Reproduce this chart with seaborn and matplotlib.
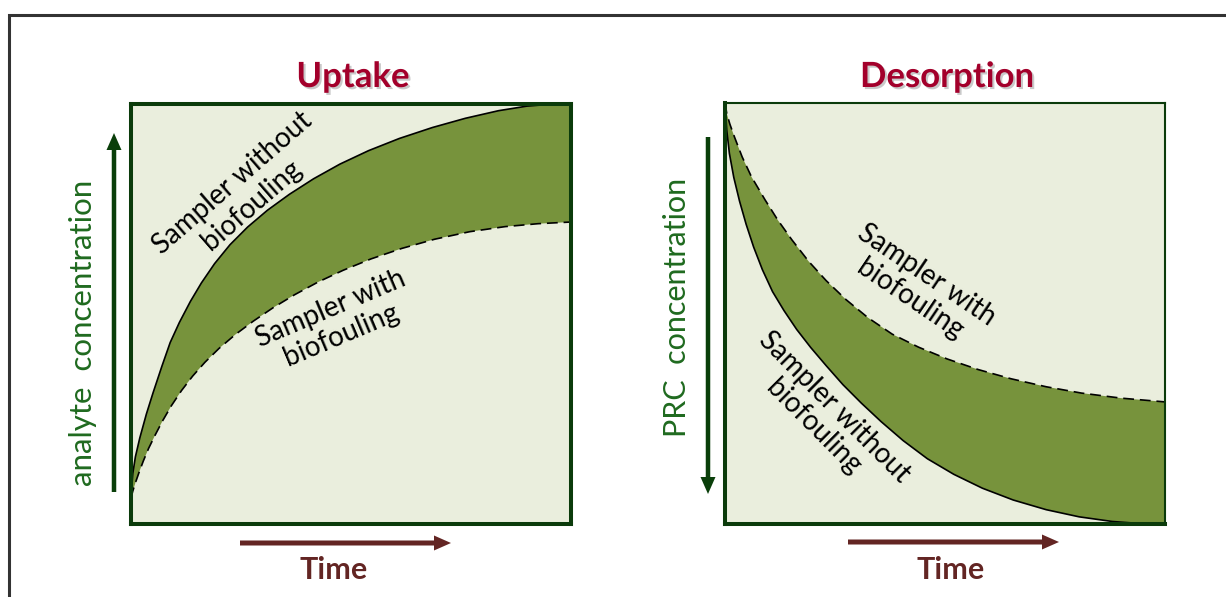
import numpy as np
import matplotlib
matplotlib.use("Agg")
import matplotlib.pyplot as plt
import matplotlib.patheffects as pe
from matplotlib.patches import FancyArrow
from matplotlib.lines import Line2D
from matplotlib.transforms import Affine2D
import seaborn as sns

# ---------------- data (normalised 0..1) ----------------
# Uptake panel
uptake_time_without = [0.0, 0.004, 0.010, 0.020, 0.035, 0.050, 0.070, 0.089, 0.110, 0.135,
                       0.160, 0.190, 0.225, 0.265, 0.310, 0.360, 0.415, 0.475, 0.540, 0.610,
                       0.685, 0.760, 0.835, 0.900, 0.950, 1.0]
uptake_conc_without = [0.062, 0.120, 0.160, 0.205, 0.262, 0.312, 0.375, 0.432, 0.480, 0.530,
                       0.574, 0.620, 0.665, 0.707, 0.747, 0.785, 0.822, 0.857, 0.889, 0.918,
                       0.944, 0.966, 0.984, 0.995, 0.999, 1.0]
uptake_time_with = [0.0, 0.004, 0.010, 0.018, 0.028, 0.040, 0.055, 0.072, 0.092, 0.115,
                    0.140, 0.168, 0.200, 0.237, 0.278, 0.323, 0.372, 0.425, 0.482, 0.545,
                    0.615, 0.690, 0.770, 0.850, 0.925, 1.0]
uptake_conc_with = [0.062, 0.078, 0.098, 0.122, 0.150, 0.180, 0.212, 0.246, 0.282, 0.318,
                    0.352, 0.385, 0.418, 0.451, 0.483, 0.515, 0.546, 0.576, 0.604, 0.631,
                    0.656, 0.678, 0.696, 0.708, 0.715, 0.719]

# Desorption panel
desorp_time_without = [0.0, 0.004, 0.010, 0.020, 0.033, 0.048, 0.065, 0.085, 0.108, 0.134,
                       0.163, 0.195, 0.230, 0.268, 0.310, 0.355, 0.405, 0.460, 0.520, 0.585,
                       0.655, 0.730, 0.805, 0.880, 0.945, 1.0]
desorp_conc_without = [1.0, 0.935, 0.880, 0.823, 0.767, 0.712, 0.658, 0.604, 0.552, 0.507,
                       0.462, 0.419, 0.376, 0.331, 0.287, 0.243, 0.198, 0.155, 0.118, 0.085,
                       0.057, 0.034, 0.017, 0.006, 0.001, 0.0]
desorp_time_with = [0.0, 0.004, 0.011, 0.022, 0.039, 0.060, 0.091, 0.120, 0.152, 0.190,
                    0.230, 0.275, 0.325, 0.380, 0.440, 0.505, 0.575, 0.650, 0.730, 0.810,
                    0.900, 1.0]
desorp_conc_with = [1.0, 0.975, 0.950, 0.918, 0.872, 0.825, 0.770, 0.722, 0.675, 0.624,
                    0.578, 0.533, 0.490, 0.451, 0.420, 0.392, 0.367, 0.345, 0.326, 0.311,
                    0.299, 0.290]

panel_titles = ["Uptake", "Desorption"]
y_labels = ["analyte  concentration", "PRC  concentration"]
x_label = "Time"
label_without = "Sampler without\nbiofouling"
label_with = "Sampler with\nbiofouling"

# ---------------- style ----------------
BG = "#EAEEDD"
FILL = "#77933C"
SPINE = "#0B3B0B"
ARROW_G = "#0A3F0A"
YLAB_C = "#1F6A1F"
TITLE_C = "#A3002B"
TIME_C = "#632523"

sns.set_theme(style="white")
plt.rcParams["font.family"] = ["Lato", "DejaVu Sans"]

W, H = 1226, 597
fig = plt.figure(figsize=(W / 100, H / 100), dpi=100)
fig.patch.set_facecolor("white")
# image-pixel coordinates (y downwards) for decorations
px = Affine2D().scale(1.0 / W, -1.0 / H).translate(0, 1) + fig.transFigure

ax1 = fig.add_axes([131 / W, 1 - 524 / H, 440 / W, 420 / H])
ax2 = fig.add_axes([725 / W, 1 - 524 / H, 440 / W, 421 / H])

panels = [
    (ax1, uptake_time_without, uptake_conc_without, uptake_time_with, uptake_conc_with),
    (ax2, desorp_time_without, desorp_conc_without, desorp_time_with, desorp_conc_with),
]

for ax, tx0, cx0, tx1, cx1 in panels:
    ax.set_facecolor(BG)
    poly_x = np.r_[tx0, tx1[::-1]]
    poly_y = np.r_[cx0, cx1[::-1]]
    ax.fill(poly_x, poly_y, color=FILL, lw=0, zorder=1)
    sns.lineplot(x=tx0, y=cx0, ax=ax, color="black", lw=1.2, zorder=2, sort=False)
    sns.lineplot(x=tx1, y=cx1, ax=ax, color="black", lw=1.2, zorder=2, sort=False,
                 linestyle=(0, (6.5, 3.5)))
    ax.set_xlim(0, 1)
    ax.set_ylim(0, 1)
    ax.set_xticks([])
    ax.set_yticks([])
    ax.set_xlabel("")
    ax.set_ylabel("")
    for s in ax.spines.values():
        s.set_color(SPINE)
        s.set_linewidth(2.9)
        s.set_visible(True)

ax2.spines["top"].set_linewidth(1.5)
ax2.spines["right"].set_linewidth(1.5)

# outer frame (partially visible)
fig.add_artist(Line2D([9, 9, W + 10], [H + 10, 15, 15], transform=px,
                      color="#333333", lw=2.2, solid_joinstyle="miter"))

shadow = [pe.SimplePatchShadow(offset=(1.5, -1.5), shadow_rgbFace="#888888", alpha=0.45),
          pe.Normal()]

# titles
fig.text(353, 77, panel_titles[0], transform=px, ha="center", va="center",
         fontsize=25, fontweight="bold", color=TITLE_C, path_effects=shadow)
fig.text(947, 77, panel_titles[1], transform=px, ha="center", va="center",
         fontsize=25, fontweight="bold", color=TITLE_C, path_effects=shadow)

# y labels
fig.text(83, 333, y_labels[0], transform=px, ha="center", va="center", rotation=90,
         fontsize=22.5, color=YLAB_C)
fig.text(677, 307, y_labels[1], transform=px, ha="center", va="center", rotation=90,
         fontsize=22, color=YLAB_C)

# Time labels
fig.text(334, 570, x_label, transform=px, ha="center", va="center",
         fontsize=22, fontweight="bold", color=TIME_C)
fig.text(951, 570, x_label, transform=px, ha="center", va="center",
         fontsize=22, fontweight="bold", color=TIME_C)

# arrows (image pixels)
def arrow(x0, y0, x1, y1, color, w=4.5):
    fig.add_artist(FancyArrow(x0, y0, x1 - x0, y1 - y0, width=w, head_width=15,
                              head_length=17, length_includes_head=True,
                              transform=px, color=color, lw=0))

arrow(114, 492, 114, 133, ARROW_G)
arrow(708, 137, 708, 494, ARROW_G)
arrow(240, 543, 451, 543, TIME_C, w=5)
arrow(848, 542, 1059, 542, TIME_C, w=5)

# curve labels
lab_kw = dict(transform=px, ha="center", va="center", rotation_mode="anchor",
              fontsize=20, color="black", multialignment="center", linespacing=1.15)
fig.text(242, 194, label_without, rotation=41, **lab_kw)
fig.text(336, 322, label_with, rotation=23, **lab_kw)
fig.text(918, 287, label_with, rotation=-34, **lab_kw)
fig.text(824, 417, label_without, rotation=-45, **lab_kw)

fig.savefig("out.png", dpi=100, facecolor="white")
